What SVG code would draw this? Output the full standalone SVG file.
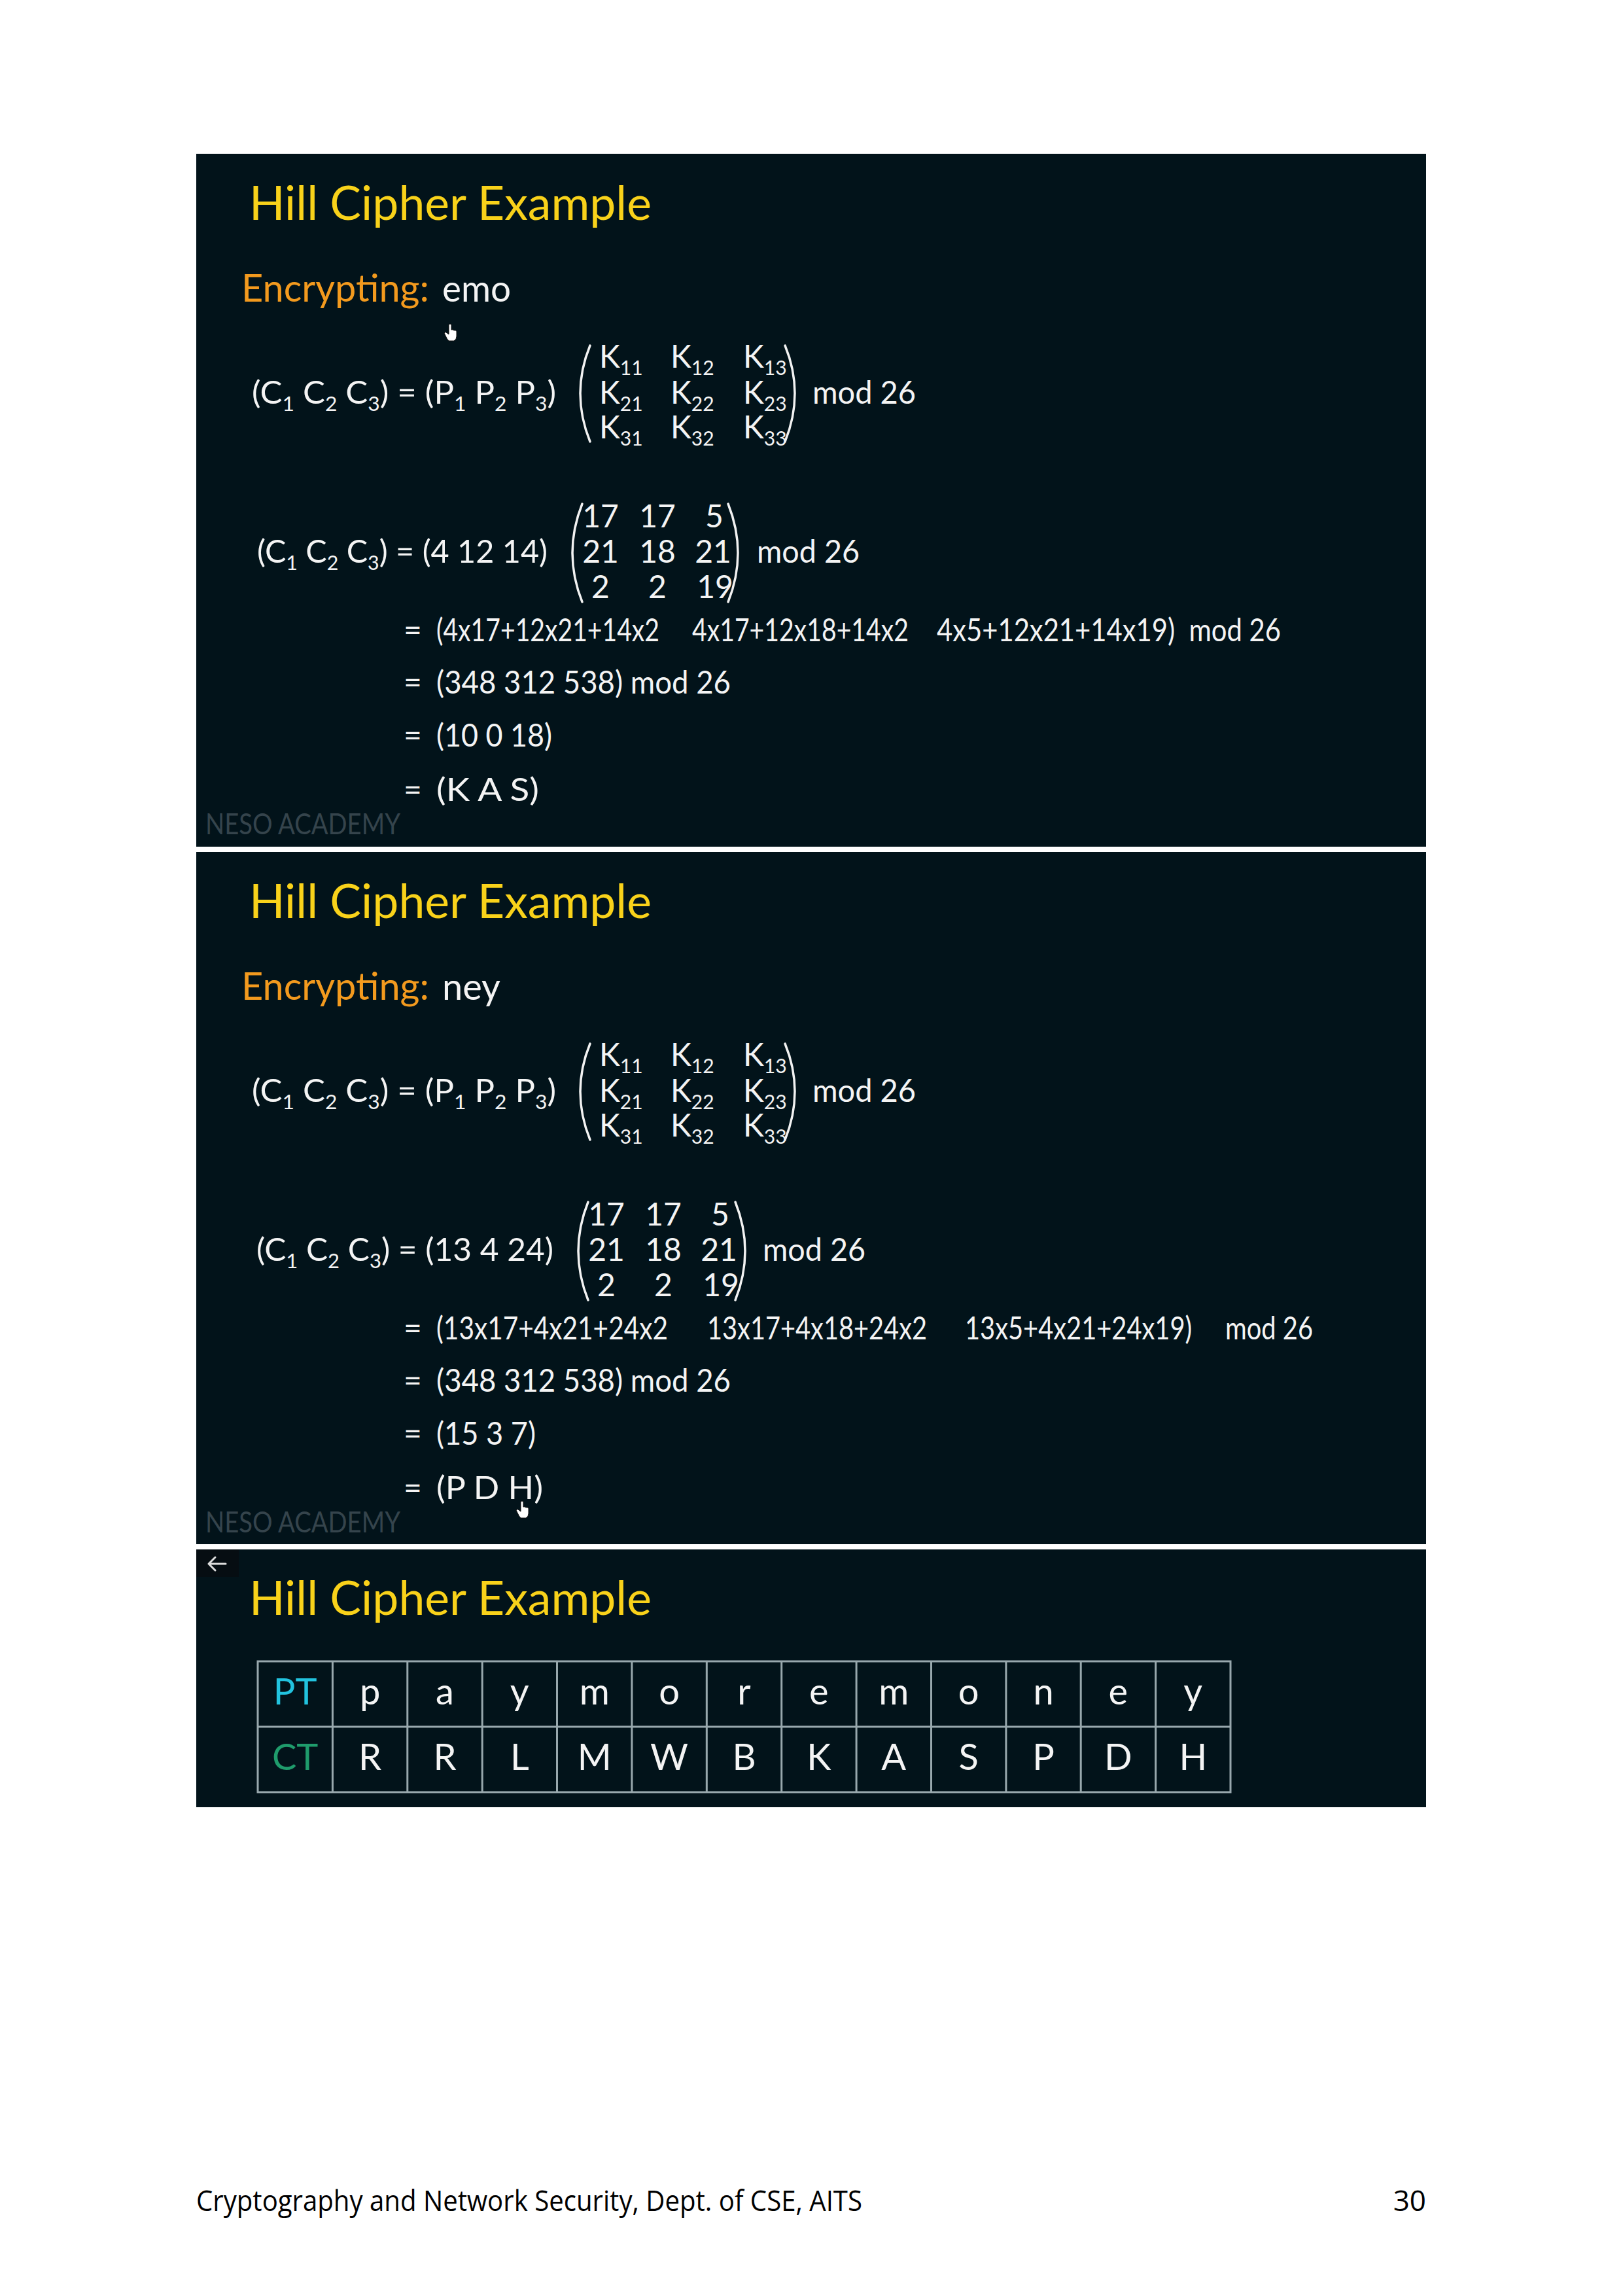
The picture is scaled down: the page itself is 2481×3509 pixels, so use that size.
<svg xmlns="http://www.w3.org/2000/svg" width="2481" height="3509" viewBox="0 0 2481 3509">
<defs>
<style>
.panel{fill:#02131a}
.t{font-family:Lato,"Liberation Sans",sans-serif}
.title{font-size:72px;fill:#f9d21a}
.enc{font-size:58px;fill:#f39a1e}
.w{fill:#f4f4f4}
.m{font-size:48px}
.md{font-size:48px}
.s{font-size:30px}
.mid{text-anchor:middle}
.pre{white-space:pre}
.br{fill:none;stroke:#f2f2f2;stroke-width:3.5;stroke-linecap:round}
.neso{font-size:44px;fill:#35444c}
.grid{stroke:#98a8ad;stroke-width:3;fill:none}
.cell{font-size:56px;text-anchor:middle}
.cur{fill:#ffffff;stroke:#111;stroke-width:1}
.foot{font-family:"Open Sans","Liberation Sans",sans-serif;font-size:44px;fill:#000}
</style>
<g id="generic">
<text class="t w m" x="385" y="617" textLength="465" lengthAdjust="spacingAndGlyphs">(C<tspan class="s" dy="11">1</tspan><tspan dy="-11"> C</tspan><tspan class="s" dy="11">2</tspan><tspan dy="-11"> C</tspan><tspan class="s" dy="11">3</tspan><tspan dy="-11">) = (P</tspan><tspan class="s" dy="11">1</tspan><tspan dy="-11"> P</tspan><tspan class="s" dy="11">2</tspan><tspan dy="-11"> P</tspan><tspan class="s" dy="11">3</tspan><tspan dy="-11">)</tspan></text>
<path class="br" d="M902 528 Q872 601 902 675"/>
<path class="br" d="M1200 528 Q1230 601 1200 675"/>
<text class="t w m" x="916" y="562">K<tspan class="s" dy="11">11</tspan></text>
<text class="t w m" x="1025" y="562">K<tspan class="s" dy="11">12</tspan></text>
<text class="t w m" x="1136" y="562">K<tspan class="s" dy="11">13</tspan></text>
<text class="t w m" x="916" y="617">K<tspan class="s" dy="11">21</tspan></text>
<text class="t w m" x="1025" y="617">K<tspan class="s" dy="11">22</tspan></text>
<text class="t w m" x="1136" y="617">K<tspan class="s" dy="11">23</tspan></text>
<text class="t w m" x="916" y="670">K<tspan class="s" dy="11">31</tspan></text>
<text class="t w m" x="1025" y="670">K<tspan class="s" dy="11">32</tspan></text>
<text class="t w m" x="1136" y="670">K<tspan class="s" dy="11">33</tspan></text>
<text class="t w md" x="1242" y="617" textLength="158" lengthAdjust="spacingAndGlyphs">mod 26</text>
</g>
</defs>

<rect width="2481" height="3509" fill="#ffffff"/>

<g id="panel1">
<rect class="panel" x="300" y="235" width="1880" height="1059"/>
<text class="t title" x="381" y="336" textLength="615" lengthAdjust="spacingAndGlyphs">Hill Cipher Example</text>
<text class="t enc" x="369" y="461" textLength="287" lengthAdjust="spacingAndGlyphs">Encrypting:</text>
<text class="t w" x="676" y="461" font-size="57" textLength="105" lengthAdjust="spacingAndGlyphs">emo</text>
<path class="cur" d="M686 496 q2 -2 4 0 l0 8 q2 -1 4 1 q2 -1 4 1 l0 8 q0 5 -4 7 l-8 0 q-3 -3 -5 -8 l-2 -4 q1 -2 3 -1 l4 3 z"/>
<use href="#generic"/>
<text class="t w m" x="393" y="860" textLength="444" lengthAdjust="spacingAndGlyphs">(C<tspan class="s" dy="11">1</tspan><tspan dy="-11"> C</tspan><tspan class="s" dy="11">2</tspan><tspan dy="-11"> C</tspan><tspan class="s" dy="11">3</tspan><tspan dy="-11">) = (4 12 14)</tspan></text>
<path class="br" d="M890 770 Q860 845 890 920"/>
<path class="br" d="M1113 770 Q1143 845 1113 920"/>
<text class="t w m mid" x="918" y="806">17</text>
<text class="t w m mid" x="1005" y="806">17</text>
<text class="t w m mid" x="1092" y="806">5</text>
<text class="t w m mid" x="918" y="860">21</text>
<text class="t w m mid" x="1005" y="860">18</text>
<text class="t w m mid" x="1090" y="860">21</text>
<text class="t w m mid" x="918" y="914">2</text>
<text class="t w m mid" x="1005" y="914">2</text>
<text class="t w m mid" x="1093" y="914">19</text>
<text class="t w md" x="1157" y="860" textLength="157" lengthAdjust="spacingAndGlyphs">mod 26</text>
<text class="t w m" x="617" y="980">=</text>
<text class="t w m" x="667" y="980" textLength="341" lengthAdjust="spacingAndGlyphs">(4x17+12x21+14x2</text>
<text class="t w m" x="1058" y="980" textLength="331" lengthAdjust="spacingAndGlyphs">4x17+12x18+14x2</text>
<text class="t w m pre" x="1432" y="980" textLength="526" lengthAdjust="spacingAndGlyphs">4x5+12x21+14x19)  mod 26</text>
<text class="t w m" x="617" y="1060">=</text>
<text class="t w m" x="667" y="1060" textLength="450" lengthAdjust="spacingAndGlyphs">(348 312 538) mod 26</text>
<text class="t w m" x="617" y="1141">=</text>
<text class="t w m" x="667" y="1141" textLength="177" lengthAdjust="spacingAndGlyphs">(10 0 18)</text>
<text class="t w m" x="617" y="1224">=</text>
<text class="t w m" x="667" y="1224" textLength="157" lengthAdjust="spacingAndGlyphs">(K A S)</text>
<text class="t neso" x="314" y="1275" textLength="298" lengthAdjust="spacingAndGlyphs">NESO ACADEMY</text>
</g>

<g id="panel2" transform="translate(0,1067)">
<rect class="panel" x="300" y="235" width="1880" height="1058"/>
<text class="t title" x="381" y="336" textLength="615" lengthAdjust="spacingAndGlyphs">Hill Cipher Example</text>
<text class="t enc" x="369" y="461" textLength="287" lengthAdjust="spacingAndGlyphs">Encrypting:</text>
<text class="t w" x="676" y="461" font-size="57" textLength="89" lengthAdjust="spacingAndGlyphs">ney</text>
<use href="#generic"/>
<text class="t w m" x="392" y="860" textLength="454" lengthAdjust="spacingAndGlyphs">(C<tspan class="s" dy="11">1</tspan><tspan dy="-11"> C</tspan><tspan class="s" dy="11">2</tspan><tspan dy="-11"> C</tspan><tspan class="s" dy="11">3</tspan><tspan dy="-11">) = (13 4 24)</tspan></text>
<path class="br" d="M899 770 Q869 845 899 920"/>
<path class="br" d="M1124 770 Q1154 845 1124 920"/>
<text class="t w m mid" x="927" y="806">17</text>
<text class="t w m mid" x="1014" y="806">17</text>
<text class="t w m mid" x="1101" y="806">5</text>
<text class="t w m mid" x="927" y="860">21</text>
<text class="t w m mid" x="1014" y="860">18</text>
<text class="t w m mid" x="1099" y="860">21</text>
<text class="t w m mid" x="927" y="914">2</text>
<text class="t w m mid" x="1014" y="914">2</text>
<text class="t w m mid" x="1102" y="914">19</text>
<text class="t w md" x="1166" y="860" textLength="157" lengthAdjust="spacingAndGlyphs">mod 26</text>
<text class="t w m" x="617" y="980">=</text>
<text class="t w m" x="667" y="980" textLength="354" lengthAdjust="spacingAndGlyphs">(13x17+4x21+24x2</text>
<text class="t w m" x="1081" y="980" textLength="336" lengthAdjust="spacingAndGlyphs">13x17+4x18+24x2</text>
<text class="t w m pre" x="1475" y="980" textLength="532" lengthAdjust="spacingAndGlyphs">13x5+4x21+24x19)     mod 26</text>
<text class="t w m" x="617" y="1060">=</text>
<text class="t w m" x="667" y="1060" textLength="450" lengthAdjust="spacingAndGlyphs">(348 312 538) mod 26</text>
<text class="t w m" x="617" y="1141">=</text>
<text class="t w m" x="667" y="1141" textLength="152" lengthAdjust="spacingAndGlyphs">(15 3 7)</text>
<text class="t w m" x="617" y="1224">=</text>
<text class="t w m" x="667" y="1224" textLength="163" lengthAdjust="spacingAndGlyphs">(P D H)</text>
<path class="cur" d="M796 1228 q2 -2 4 0 l0 8 q2 -1 4 1 q2 -1 4 1 l0 8 q0 5 -4 7 l-8 0 q-3 -3 -5 -8 l-2 -4 q1 -2 3 -1 l4 3 z"/>
<text class="t neso" x="314" y="1275" textLength="298" lengthAdjust="spacingAndGlyphs">NESO ACADEMY</text>
</g>

<g id="panel3">
<rect class="panel" x="300" y="2368" width="1880" height="394"/>
<rect x="300" y="2368" width="65" height="42" fill="#060d12"/>
<path d="M345 2390 H319 M329 2380 L319 2390 L329 2400" fill="none" stroke="#dcdcdc" stroke-width="3" stroke-linecap="round" stroke-linejoin="round"/>
<text class="t title" x="381" y="2468" textLength="615" lengthAdjust="spacingAndGlyphs">Hill Cipher Example</text>
<g id="table">
<rect class="grid" x="394" y="2539" width="1487" height="200"/>
<path class="grid" d="M394 2639 H1881 M508.4 2539 V2739 M622.8 2539 V2739 M737.2 2539 V2739 M851.5 2539 V2739 M965.9 2539 V2739 M1080.3 2539 V2739 M1194.7 2539 V2739 M1309.1 2539 V2739 M1423.5 2539 V2739 M1537.9 2539 V2739 M1652.2 2539 V2739 M1766.6 2539 V2739"/>
<text class="t cell" x="451.2" y="2605" fill="#22c3df">PT</text>
<text class="t cell w" x="565.6" y="2605">p</text>
<text class="t cell w" x="680.0" y="2605">a</text>
<text class="t cell w" x="794.3" y="2605">y</text>
<text class="t cell w" x="908.7" y="2605">m</text>
<text class="t cell w" x="1023.1" y="2605">o</text>
<text class="t cell w" x="1137.5" y="2605">r</text>
<text class="t cell w" x="1251.9" y="2605">e</text>
<text class="t cell w" x="1366.3" y="2605">m</text>
<text class="t cell w" x="1480.7" y="2605">o</text>
<text class="t cell w" x="1595.1" y="2605">n</text>
<text class="t cell w" x="1709.4" y="2605">e</text>
<text class="t cell w" x="1823.8" y="2605">y</text>
<text class="t cell" x="451.2" y="2705" fill="#1f9c6c">CT</text>
<text class="t cell w" x="565.6" y="2705">R</text>
<text class="t cell w" x="680.0" y="2705">R</text>
<text class="t cell w" x="794.3" y="2705">L</text>
<text class="t cell w" x="908.7" y="2705">M</text>
<text class="t cell w" x="1023.1" y="2705">W</text>
<text class="t cell w" x="1137.5" y="2705">B</text>
<text class="t cell w" x="1251.9" y="2705">K</text>
<text class="t cell w" x="1366.3" y="2705">A</text>
<text class="t cell w" x="1480.7" y="2705">S</text>
<text class="t cell w" x="1595.1" y="2705">P</text>
<text class="t cell w" x="1709.4" y="2705">D</text>
<text class="t cell w" x="1823.8" y="2705">H</text>
</g>
</g>

<g id="footer">
<text class="foot" x="300" y="3379" textLength="1018" lengthAdjust="spacingAndGlyphs">Cryptography and Network Security, Dept. of CSE, AITS</text>
<text class="foot" x="2180" y="3379" text-anchor="end">30</text>
</g>
</svg>
